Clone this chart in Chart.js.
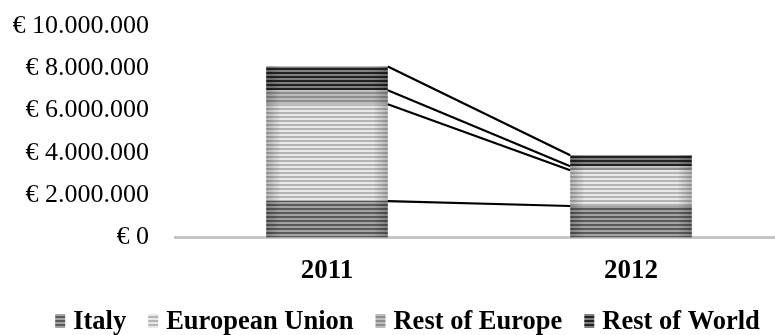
<!DOCTYPE html>
<html>
<head>
<meta charset="utf-8">
<script src="https://cdn.jsdelivr.net/npm/chart.js@4/dist/chart.umd.min.js"></script>
<style>
  html, body { margin: 0; padding: 0; background: #fff; overflow: hidden; }
  #wrap { position: relative; width: 783px; height: 335px; }
</style>
</head>
<body>
<div id="wrap"><canvas id="c" width="783" height="335"></canvas></div>
<script>
// Export revenue by destination, in euro
const years = ['2011', '2012'];
const seriesNames = ['Italy', 'European Union', 'Rest of Europe', 'Rest of World'];
const italy = [1720000, 1490000];
const europeanUnion = [4580000, 1690000];
const restOfEurope = [660000, 190000];
const restOfWorld = [1130000, 520000];
const yTicks = [0, 2000000, 4000000, 6000000, 8000000, 10000000];

const FONT = '"Liberation Serif", "Times New Roman", serif';
const canvas = document.getElementById('c');
const ctx = canvas.getContext('2d');

// Horizontal-line fill: dark line, light gap, 4px period
function stripes(dark, light) {
  const t = document.createElement('canvas');
  t.width = 4; t.height = 4;
  const g = t.getContext('2d');
  g.fillStyle = light; g.fillRect(0, 0, 4, 4);
  g.fillStyle = dark; g.fillRect(0, 0, 4, 2);
  return ctx.createPattern(t, 'repeat');
}

const fills = [
  stripes('#5a5a5a', '#a4a4a4'),
  stripes('#b4b4b4', '#e8e8e8'),
  stripes('#8e8e8e', '#bdbdbd'),
  stripes('#222222', '#808080')
];
const values = [italy, europeanUnion, restOfEurope, restOfWorld];

function euro(v) {
  const s = Math.round(v).toString().replace(/\B(?=(\d{3})+(?!\d))/g, '.');
  return '€ ' + s;
}

// Soft darkening toward the left and right edges of each bar
const barShade = {
  id: 'barShade',
  afterDatasetsDraw(chart) {
    const c = chart.ctx;
    c.save();
    chart.data.datasets.forEach((ds, i) => {
      chart.getDatasetMeta(i).data.forEach(bar => {
        const left = bar.x - bar.width / 2, right = bar.x + bar.width / 2;
        const top = Math.min(bar.y, bar.base), h = Math.abs(bar.base - bar.y);
        const g = c.createLinearGradient(left, 0, right, 0);
        g.addColorStop(0, 'rgba(0,0,0,0.22)');
        g.addColorStop(0.12, 'rgba(0,0,0,0)');
        g.addColorStop(0.88, 'rgba(0,0,0,0)');
        g.addColorStop(1, 'rgba(0,0,0,0.22)');
        c.fillStyle = g;
        c.fillRect(left, top, bar.width, h);
      });
    });
    c.restore();
  }
};

// Lines joining the top of each stacked segment from one bar to the next
const seriesLines = {
  id: 'seriesLines',
  afterDatasetsDraw(chart) {
    const c = chart.ctx;
    c.save();
    c.strokeStyle = '#000';
    c.lineWidth = 2.2;
    chart.data.datasets.forEach((ds, i) => {
      const meta = chart.getDatasetMeta(i);
      for (let k = 0; k < meta.data.length - 1; k++) {
        const a = meta.data[k], b = meta.data[k + 1];
        c.beginPath();
        c.moveTo(a.x + a.width / 2, a.y);
        c.lineTo(b.x - b.width / 2, b.y);
        c.stroke();
      }
    });
    c.restore();
  }
};

// Legend row under the axis
const bottomLegend = {
  id: 'bottomLegend',
  afterDraw(chart) {
    const c = chart.ctx;
    c.save();
    c.font = 'bold 26.5px ' + FONT;
    c.textBaseline = 'alphabetic';
    const boxW = 10, boxH = 14, boxGap = 8, itemGap = 22;
    const widths = chart.data.datasets.map(ds => boxW + boxGap + c.measureText(ds.label).width);
    const total = widths.reduce((s, w) => s + w, 0) + itemGap * (widths.length - 1);
    let x = 407.5 - total / 2;
    const baseline = 329;
    chart.data.datasets.forEach((ds, i) => {
      c.fillStyle = ds.backgroundColor;
      c.fillRect(x, baseline - 15, boxW, boxH);
      c.fillStyle = '#000';
      c.fillText(ds.label, x + boxW + boxGap, baseline);
      x += widths[i] + itemGap;
    });
    c.restore();
  }
};

new Chart(ctx, {
  type: 'bar',
  data: {
    labels: years,
    datasets: seriesNames.map((name, i) => ({
      label: name,
      data: values[i],
      backgroundColor: fills[i],
      borderWidth: 0,
      barPercentage: 0.4,
      categoryPercentage: 1
    }))
  },
  options: {
    responsive: false,
    animation: false,
    layout: { padding: { left: 13, right: 0, top: 26, bottom: 50 } },
    plugins: { legend: { display: false }, tooltip: { enabled: false } },
    scales: {
      x: {
        stacked: true,
        afterFit(scale) { scale.height = 47.5; },
        grid: { display: false, drawTicks: false },
        border: { display: true, color: '#c6c6c6', width: 3 },
        ticks: { color: '#000', padding: 17, font: { family: FONT, size: 27, weight: 'bold' } }
      },
      y: {
        stacked: true,
        min: 0,
        max: 10000000,
        afterBuildTicks(scale) { scale.ticks = yTicks.map(v => ({ value: v })); },
        afterFit(scale) {
          scale.width = 162;
          scale.paddingTop = 0;
          scale.paddingBottom = 0;
        },
        grid: { display: false, drawTicks: false },
        border: { display: false },
        ticks: {
          color: '#000',
          padding: 26,
          font: { family: FONT, size: 26 },
          callback: v => euro(v)
        }
      }
    }
  },
  plugins: [barShade, seriesLines, bottomLegend]
});
</script>
</body>
</html>
